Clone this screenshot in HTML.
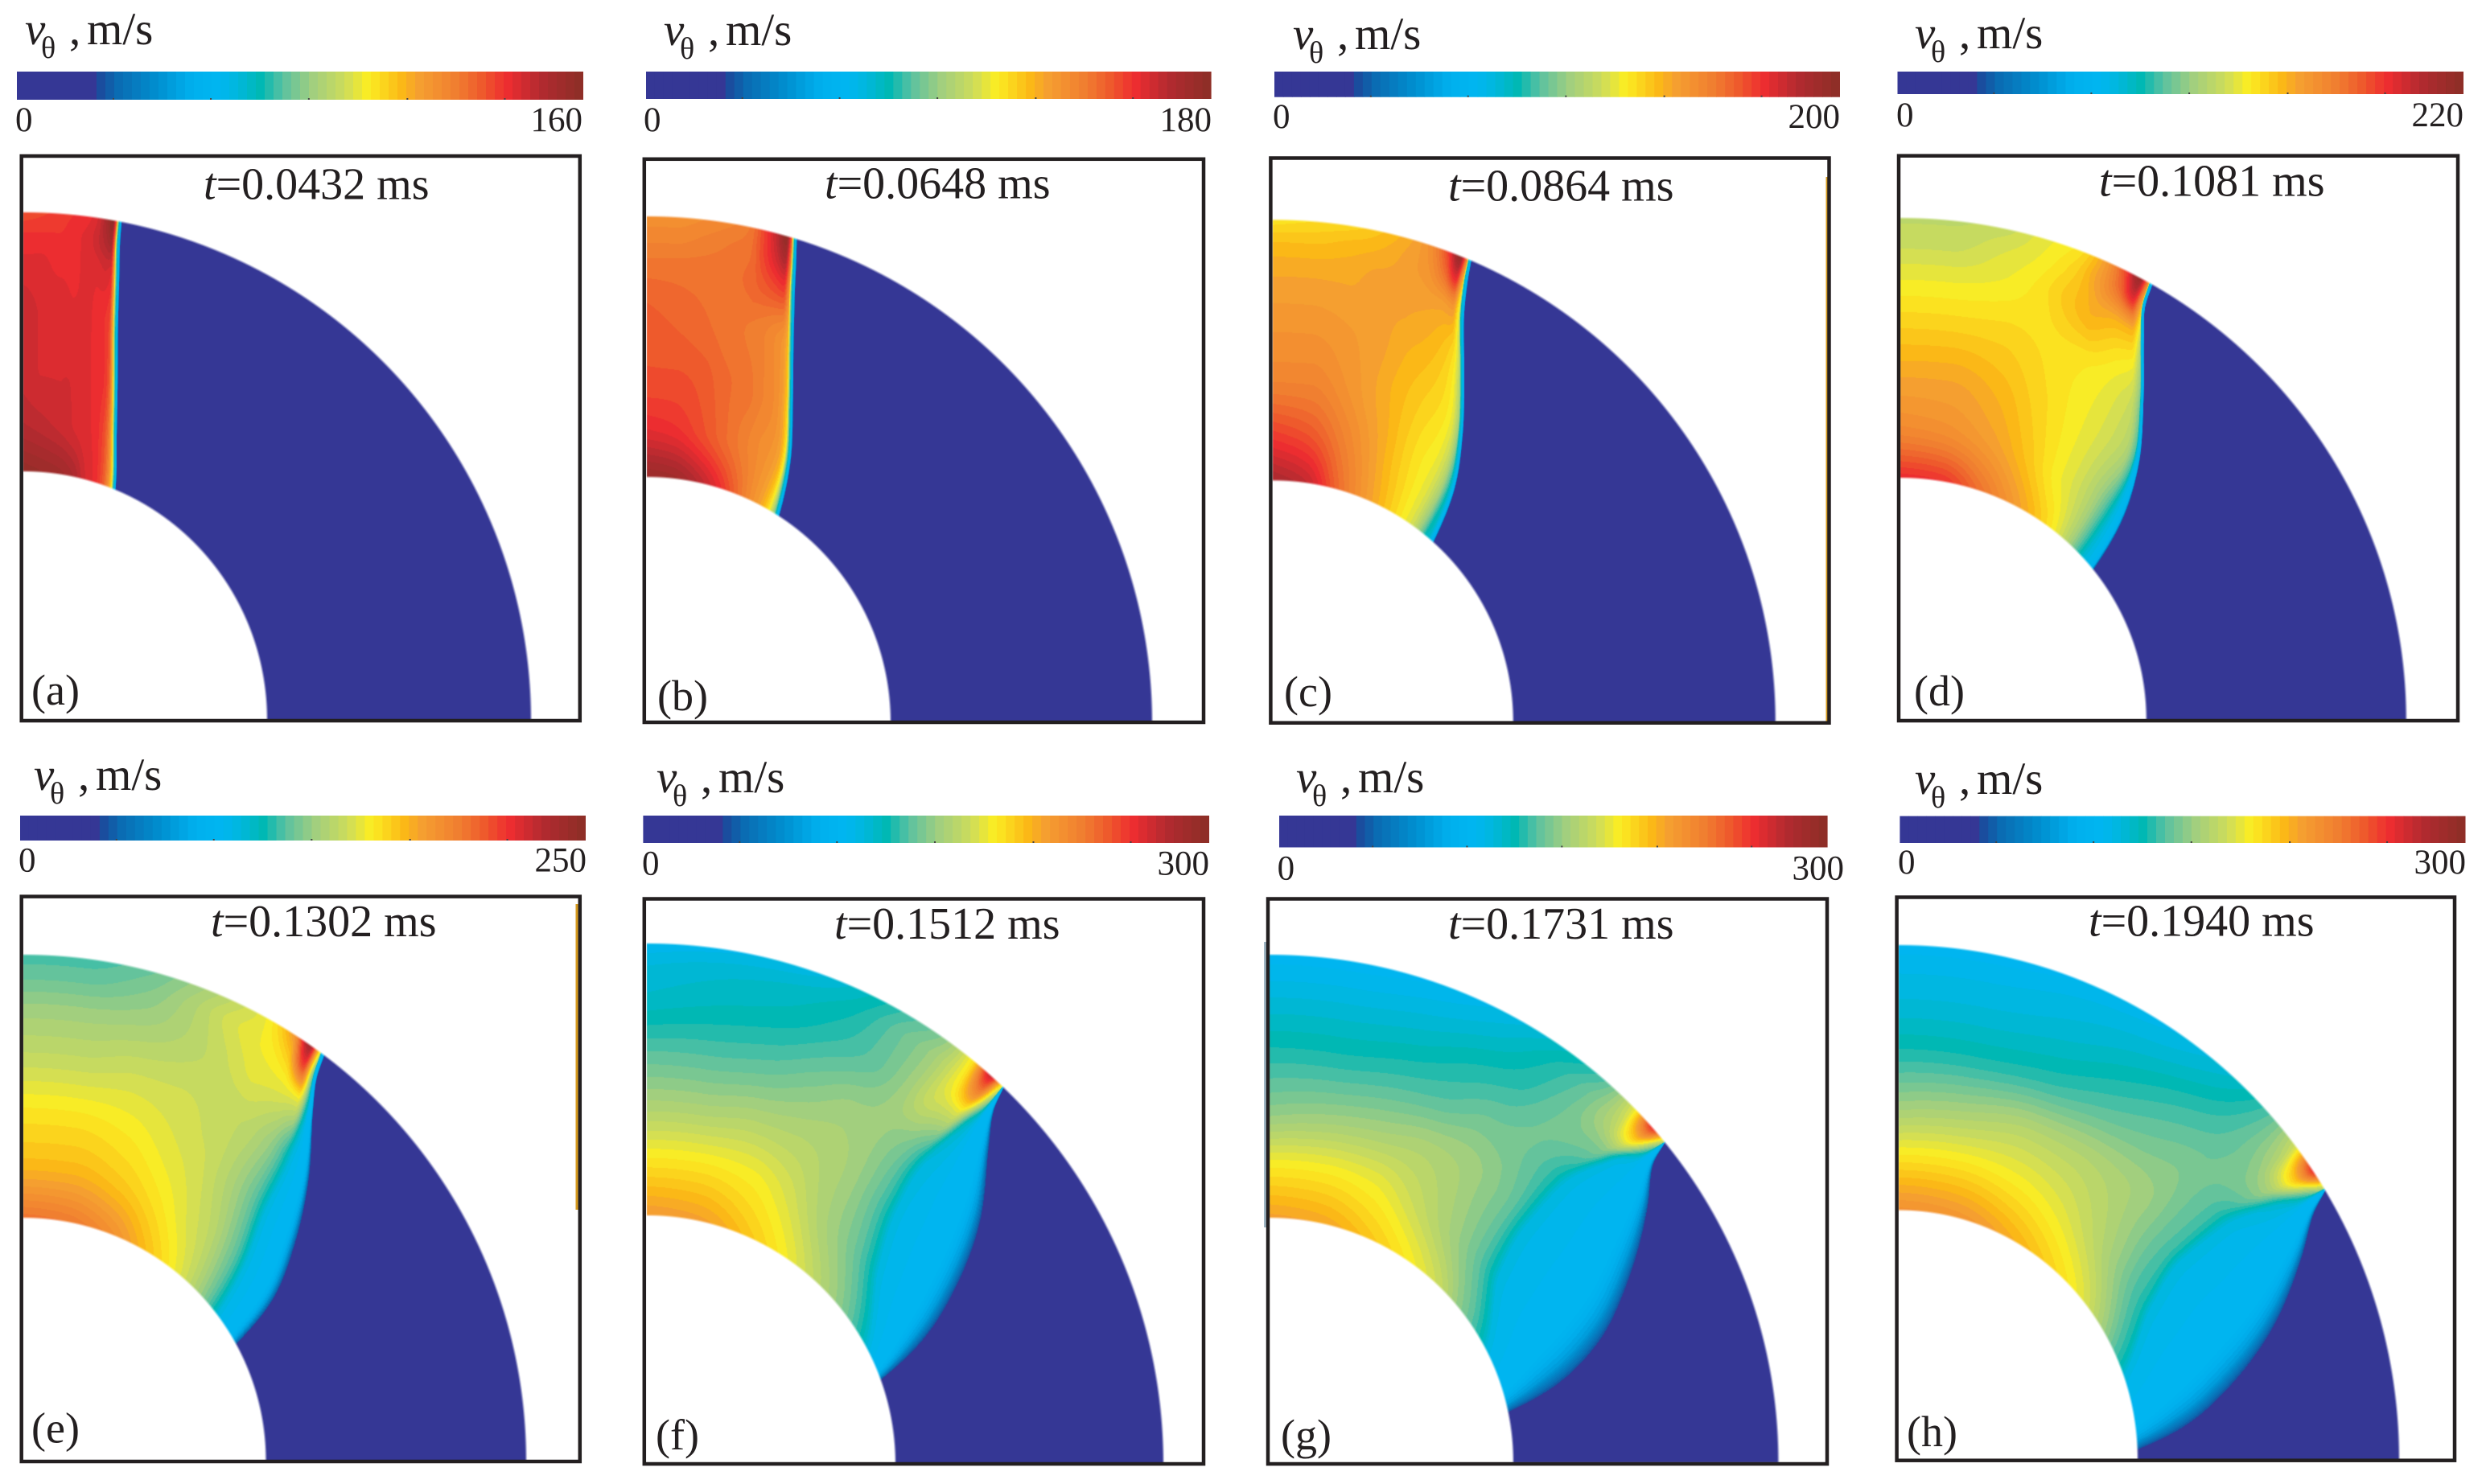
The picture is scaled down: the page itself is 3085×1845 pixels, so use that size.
<!DOCTYPE html>
<html lang="en">
<head>
<meta charset="utf-8">
<title>Tangential velocity fields</title>
<style>
html,body{margin:0;padding:0;background:#fff;}
#figure{position:relative;width:3085px;height:1845px;overflow:hidden;background:#fff;}
#figure canvas{position:absolute;display:block;}
#overlay{position:absolute;left:0;top:0;}
text{font-family:"Liberation Serif",serif;fill:#231f20;}
.title{font-size:56px;}
.letter{font-size:54px;}
.unit{font-size:57px;}
.sub{font-size:38px;}
.tick{font-size:43px;}
.it{font-style:italic;}
</style>
</head>
<body>
<div id="figure">
<svg id="overlay" width="3085" height="1845" viewBox="0 0 3085 1845">
<g id="bars"></g>

<g><text class="unit it" x="31" y="55">v</text><text class="sub" x="51" y="72">θ</text><text class="unit" x="86" y="55">,</text><text class="unit" x="108" y="55">m/s</text></g>
<g><text class="unit it" x="825" y="56">v</text><text class="sub" x="845" y="73">θ</text><text class="unit" x="880" y="56">,</text><text class="unit" x="902" y="56">m/s</text></g>
<g><text class="unit it" x="1607" y="61">v</text><text class="sub" x="1627" y="78">θ</text><text class="unit" x="1662" y="61">,</text><text class="unit" x="1684" y="61">m/s</text></g>
<g><text class="unit it" x="2380" y="60">v</text><text class="sub" x="2400" y="77">θ</text><text class="unit" x="2435" y="60">,</text><text class="unit" x="2457" y="60">m/s</text></g>
<g><text class="unit it" x="42" y="982">v</text><text class="sub" x="62" y="999">θ</text><text class="unit" x="97" y="982">,</text><text class="unit" x="119" y="982">m/s</text></g>
<g><text class="unit it" x="816" y="985">v</text><text class="sub" x="836" y="1002">θ</text><text class="unit" x="871" y="985">,</text><text class="unit" x="893" y="985">m/s</text></g>
<g><text class="unit it" x="1611" y="985">v</text><text class="sub" x="1631" y="1002">θ</text><text class="unit" x="1666" y="985">,</text><text class="unit" x="1688" y="985">m/s</text></g>
<g><text class="unit it" x="2380" y="987">v</text><text class="sub" x="2400" y="1004">θ</text><text class="unit" x="2435" y="987">,</text><text class="unit" x="2457" y="987">m/s</text></g>

<rect x="2269.5" y="220" width="2.5" height="677" fill="#d69a1e"/>
<rect x="715.5" y="1124" width="3" height="380" fill="#d69a1e"/>
<rect x="1571" y="1171" width="4" height="355" fill="#9fb6c4"/>

<rect x="26.7" y="194" width="694.1" height="702" fill="none" stroke="#231f20" stroke-width="4.5"/>
<rect x="800.8" y="197.8" width="695.2" height="700.2" fill="none" stroke="#231f20" stroke-width="4.5"/>
<rect x="1579.4" y="196.5" width="694.1" height="702.2" fill="none" stroke="#231f20" stroke-width="4.5"/>
<rect x="2360" y="193.7" width="695" height="702.3" fill="none" stroke="#231f20" stroke-width="4.5"/>
<rect x="26.7" y="1114.6" width="694.1" height="702.4" fill="none" stroke="#231f20" stroke-width="4.5"/>
<rect x="800.8" y="1117.5" width="695.2" height="702.5" fill="none" stroke="#231f20" stroke-width="4.5"/>
<rect x="1576" y="1117.5" width="695" height="702.5" fill="none" stroke="#231f20" stroke-width="4.5"/>
<rect x="2357.6" y="1115.5" width="693.4" height="700.2" fill="none" stroke="#231f20" stroke-width="4.5"/>

<text class="title" x="253" y="247.5"><tspan class="it">t</tspan>=0.0432 ms</text>
<text class="title" x="1025" y="246.5"><tspan class="it">t</tspan>=0.0648 ms</text>
<text class="title" x="1800" y="249.4"><tspan class="it">t</tspan>=0.0864 ms</text>
<text class="title" x="2609" y="243.5"><tspan class="it">t</tspan>=0.1081 ms</text>
<text class="title" x="262" y="1163.8"><tspan class="it">t</tspan>=0.1302 ms</text>
<text class="title" x="1037" y="1166.8"><tspan class="it">t</tspan>=0.1512 ms</text>
<text class="title" x="1800" y="1166.8"><tspan class="it">t</tspan>=0.1731 ms</text>
<text class="title" x="2596" y="1163.4"><tspan class="it">t</tspan>=0.1940 ms</text>

<text class="letter" x="39" y="876">(a)</text>
<text class="letter" x="817" y="883">(b)</text>
<text class="letter" x="1596" y="878">(c)</text>
<text class="letter" x="2379" y="877">(d)</text>
<text class="letter" x="39" y="1793.5">(e)</text>
<text class="letter" x="815" y="1802">(f)</text>
<text class="letter" x="1592" y="1802">(g)</text>
<text class="letter" x="2370" y="1798">(h)</text>
</svg>
</div>

<script>
// Colour scale (percent of scale -> colour)
const cmapStops = [0, 13.5, 15, 18, 25, 31, 36, 39, 43, 47, 52, 58, 62, 68, 71, 78, 82, 86.5, 92.5, 100];
const cmapColors = ['#353795','#353795','#17509f','#0a6cb3','#0090d0','#00b0ee','#00b6f0','#00b7dc','#00b8b4','#5bc1a0','#9fce80','#cedc5a','#fbed22','#fbb817','#f59f30','#f07c30','#ee5a2c','#ee2d30','#b22a30','#8b2f26'];

// Colorbar tick labels
const scaleMin = ['0','0','0','0','0','0','0','0'];
const scaleMax = ['160','180','200','220','250','300','300','300'];
const colorbarTicks = [16.9, 34.1, 51.4, 68.8, 86.0];

// Field grid coordinates: radial position across the ring, and fraction of the angle to the shear line
const rhoStations = [0, 0.2, 0.4, 0.6, 0.8, 0.92, 1];
const sStations = [0, 0.2, 0.4, 0.55, 0.7, 0.8, 0.9, 0.96, 1];
const bandStations = [0, 0.3, 0.7, 0.88, 1];

// Leading wave front angle (degrees from vertical) at each radial station
const frontA = [21.9, 18.2, 15.6, 13.6, 12.2, 11.5, 11.2];
const frontB = [32.8, 29, 24.8, 21.5, 19.1, 18, 17.3];
const frontC = [41.9, 38.2, 33.4, 28.8, 25.2, 23.9, 23.3];
const frontD = [51.9, 48, 43, 37.3, 32.5, 30.4, 29.9];
const frontE = [61.5, 57.5, 51.6, 45.7, 40, 37.6, 36.8];
const frontF = [70.4, 66, 60.4, 54.4, 47.6, 44.6, 43.7];
const frontG = [78.3, 75, 70, 63, 56, 52, 51];
const frontH = [87.7, 83.2, 77.3, 71, 64, 60, 58.5];

// Inner boundary of the thin/cyan wave band
const shearA = [20.7, 17.2, 14.7, 12.8, 11.5, 10.85, 10.6];
const shearB = [30.8, 27.6, 23.7, 20.6, 18.3, 17.3, 16.7];
const shearC = [39.4, 36.6, 32.4, 28, 24.5, 23.3, 22.8];
const shearD = [47.9, 45, 41.7, 36.6, 31.9, 29.9, 29.4];
const shearE = [53.5, 49, 44.5, 42, 39, 37, 36.2];
const shearF = [63, 50.5, 45, 43, 43.3, 43.6, 43.5];
const shearG = [63, 51, 47.5, 46.8, 48.7, 50.4, 50.9];
const shearH = [70.6, 60, 55.8, 55.4, 56.7, 57.8, 58.2];

// Values across the wave band, percent of the colour scale
const bandA = [50, 36, 30, 15];
const bandB = [50, 36, 30, 15];
const bandC = [42, 36, 30, 15];
const bandD = [38, 36, 31, 15];
const bandE = [36, 35, 27, 15];
const bandF = [36, 35, 27, 15];
const bandG = [36, 35, 27, 15];
const bandH = [36, 35, 27, 15];

// Field values, percent of its colour scale (rows: rho, columns: s)
const fieldA = [
  [98,97,96,94,89,87,82,74,64],
  [92,91,90,89,88,87,84,78,66],
  [90,89,89,89,88,87,86,82,68],
  [90,89,89,88,88,87,86,84,70],
  [88,88,87,87,88,88,89,88,72],
  [86,86,86,87,88,90,93,95,78],
  [83,84,85,86,87,89,95,99,80]];
const fieldB = [
  [97,96,92,87,80,75,70,64,56],
  [87,86,83,80,77,75,73,70,62],
  [83,83,82,80,79,77,75,72,66],
  [82,81,80,79,78,77,75,73,68],
  [79,79,79,79,80,82,84,85,74],
  [76,76,77,78,79,84,90,94,78],
  [74,74,75,76,78,84,92,99,80]];
const fieldC = [
  [94,91,80,73,67,63,58,50,42],
  [84,82,76,71,66,63,60,55,46],
  [76,76,73,70,67,65,63,60,52],
  [73,73,72,71,69,68,66,63,56],
  [70,70,70,71,71,71,71,72,60],
  [67,67,68,69,71,73,80,88,68],
  [63,64,65,67,70,74,85,98,75]];
const fieldD = [
  [87,86,79,73,67,62,54,46,40],
  [75,74,71,67,62,59,54,48,42],
  [70,70,68,65,62,60,57,54,46],
  [65,65,65,64,63,62,60,58,50],
  [60,60,61,63,67,69,68,68,58],
  [57,57,59,61,65,71,80,88,70],
  [56,56,57,60,63,70,84,97,75]];
const fieldE = [
  [79,78,74,68,62,57,50,44,38],
  [68,68,66,63,59,56,50,45,38],
  [63,63,62,60,58,55,50,45,38],
  [57,57,58,58,57,56,52,46,38],
  [52,52,53,55,58,60,60,60,42],
  [48,48,50,54,59,61,66,84,50],
  [46,46,48,52,57,61,72,95,60]];
const fieldF = [
  [72,71,66,61,55,51,46,42,38],
  [63,63,62,59,54,51,47,43,38],
  [54,54,55,55,54,52,48,44,38],
  [47,47,48,50,52,52,50,46,39],
  [41,42,43,45,48,52,58,58,42],
  [39,40,41,43,48,52,62,76,50],
  [36,37,38,41,46,50,63,90,60]];
const fieldG = [
  [71,70,66,62,57,51,46,42,38],
  [62,62,61,58,54,51,47,43,38],
  [51,52,53,54,53,51,48,44,38],
  [45,45,46,47,49,49,47,44,38],
  [40,40,41,43,45,48,50,50,38],
  [37,37,38,40,44,48,56,66,45],
  [35,35,36,38,42,46,60,86,55]];
const fieldH = [
  [74,73,69,65,60,54,47,43,38],
  [63,63,62,60,56,52,47,44,38],
  [52,53,55,55,54,52,48,45,38],
  [44,44,45,47,49,50,48,45,38],
  [39,39,40,42,45,47,50,52,40],
  [37,37,38,39,42,46,54,66,45],
  [35,35,36,37,40,45,58,86,55]];

const panelIds = ['a','b','c','d','e','f','g','h'];
const fronts = [frontA,frontB,frontC,frontD,frontE,frontF,frontG,frontH];
const shears = [shearA,shearB,shearC,shearD,shearE,shearF,shearG,shearH];
const bands = [bandA,bandB,bandC,bandD,bandE,bandF,bandG,bandH];
const fields = [fieldA,fieldB,fieldC,fieldD,fieldE,fieldF,fieldG,fieldH];

// Layout only (pixels on the page)
const panelBox = [
  {l:27,r:721,t:194,b:896,cx:29,cy:895,rx:631,ry:631,ix:303,iy:309},
  {l:801,r:1496,t:198,b:898,cx:804,cy:898,rx:628,ry:629,ix:303,iy:305},
  {l:1579,r:2273,t:197,b:899,cx:1581.8,cy:897.3,rx:625,ry:624,ix:299,iy:300},
  {l:2360,r:3055,t:194,b:896,cx:2362.3,cy:895,rx:628.5,ry:624,ix:305.5,iy:301},
  {l:27,r:721,t:1115,b:1817,cx:29,cy:1816,rx:625,ry:629,ix:301.5,iy:302},
  {l:801,r:1496,t:1118,b:1820,cx:804,cy:1820,rx:642,ry:647,ix:309,iy:309},
  {l:1576,r:2271,t:1118,b:1820,cx:1578.4,cy:1817,rx:632,ry:630,ix:302.5,iy:303},
  {l:2358,r:3051,t:1116,b:1816,cx:2360,cy:1814.5,rx:622,ry:639.5,ix:297,iy:310}];
const barBox = [
  {l:21,r:725,t:89,b:124,lx0:19,lx1:724,ly:163},
  {l:803,r:1505.6,t:89,b:123,lx0:800,lx1:1506,ly:163},
  {l:1584,r:2287,t:89,b:120.7,lx0:1582,lx1:2287,ly:159},
  {l:2358.5,r:3062,t:89,b:117,lx0:2357,lx1:3062,ly:157},
  {l:25,r:728,t:1014,b:1045,lx0:23,lx1:729,ly:1083.5},
  {l:799.4,r:1503,t:1014,b:1048,lx0:798,lx1:1503,ly:1087.6},
  {l:1590,r:2271.6,t:1014,b:1053.5,lx0:1587.6,lx1:2292,ly:1093.4},
  {l:2361.4,r:3064.5,t:1014.6,b:1048,lx0:2359,lx1:3065,ly:1086}];

const SVGNS = 'http://www.w3.org/2000/svg';
const LEVELS = 64;
const RHO_SAMPLES = 140;
const S_SAMPLES = 240;

function hexRgb(h){return [parseInt(h.slice(1,3),16),parseInt(h.slice(3,5),16),parseInt(h.slice(5,7),16)];}
const stopRgb = cmapColors.map(hexRgb);
function cmap(pct){
  const p = Math.max(0,Math.min(100,pct));
  let i = 0;
  while(i < cmapStops.length-2 && p > cmapStops[i+1]) i++;
  const f = (p-cmapStops[i])/(cmapStops[i+1]-cmapStops[i]);
  const a = stopRgb[i], b = stopRgb[i+1];
  return [a[0]+(b[0]-a[0])*f, a[1]+(b[1]-a[1])*f, a[2]+(b[2]-a[2])*f];
}
const lut = [];
for(let i=0;i<LEVELS;i++){ lut.push(cmap((i+0.5)*100/LEVELS).map(Math.round)); }

function findCell(st,v){
  let i = 0;
  while(i < st.length-2 && v > st[i+1]) i++;
  return i;
}
function interp1(st,vals,v){
  const i = findCell(st,v);
  const f = Math.max(0,Math.min(1,(v-st[i])/(st[i+1]-st[i])));
  return vals[i]+(vals[i+1]-vals[i])*f;
}
// Monotone cubic interpolation through the read values
function tangents(st,vals){
  const n = st.length, d = [], m = new Array(n);
  for(let i=0;i<n-1;i++) d.push((vals[i+1]-vals[i])/(st[i+1]-st[i]));
  m[0] = d[0]; m[n-1] = d[n-2];
  for(let i=1;i<n-1;i++){
    m[i] = d[i-1]*d[i] <= 0 ? 0 : 2*d[i-1]*d[i]/(d[i-1]+d[i]);
  }
  return m;
}
function smooth1(st,vals,m,v){
  const i = findCell(st,v);
  const h = st[i+1]-st[i];
  const t = Math.max(0,Math.min(1,(v-st[i])/h));
  const t2 = t*t, t3 = t2*t;
  return (2*t3-3*t2+1)*vals[i]+(t3-2*t2+t)*h*m[i]+(3*t2-2*t3)*vals[i+1]+(t3-t2)*h*m[i+1];
}
function curveTable(vals){
  const m = tangents(rhoStations,vals), out = new Float32Array(RHO_SAMPLES+1);
  for(let i=0;i<=RHO_SAMPLES;i++) out[i] = smooth1(rhoStations,vals,m,i/RHO_SAMPLES);
  return out;
}
function fieldTable(grid){
  const out = new Float32Array((RHO_SAMPLES+1)*(S_SAMPLES+1));
  const rowM = grid.map(r => tangents(sStations,r));
  for(let j=0;j<=S_SAMPLES;j++){
    const s = j/S_SAMPLES;
    const col = grid.map((r,ri) => smooth1(sStations,r,rowM[ri],s));
    const cm = tangents(rhoStations,col);
    for(let i=0;i<=RHO_SAMPLES;i++){
      out[i*(S_SAMPLES+1)+j] = smooth1(rhoStations,col,cm,i/RHO_SAMPLES);
    }
  }
  return out;
}
function sampleField(tab,rho,s){
  const a = Math.max(0,Math.min(1,rho))*RHO_SAMPLES, b = Math.max(0,Math.min(1,s))*S_SAMPLES;
  const i = Math.min(RHO_SAMPLES-1,Math.floor(a)), j = Math.min(S_SAMPLES-1,Math.floor(b));
  const fa = a-i, fb = b-j, W = S_SAMPLES+1;
  const p = tab[i*W+j]+(tab[i*W+j+1]-tab[i*W+j])*fb;
  const q = tab[(i+1)*W+j]+(tab[(i+1)*W+j+1]-tab[(i+1)*W+j])*fb;
  return p+(q-p)*fa;
}
function sampleCurve(tab,rho){
  const a = Math.max(0,Math.min(1,rho))*RHO_SAMPLES;
  const i = Math.min(RHO_SAMPLES-1,Math.floor(a));
  return tab[i]+(tab[i+1]-tab[i])*(a-i);
}

function drawPanel(k){
  const box = panelBox[k], band = bands[k];
  const tab = fieldTable(fields[k]), fTab = curveTable(fronts[k]), sTab = curveTable(shears[k]);
  const w = box.r-box.l, h = box.b-box.t;
  const cv = document.createElement('canvas');
  cv.width = w; cv.height = h;
  cv.style.left = box.l+'px'; cv.style.top = box.t+'px';
  
  
  const ctx = cv.getContext('2d');
  const img = ctx.createImageData(w,h), d = img.data;
  const rMean = (box.rx+box.ry)/2, iMean = (box.ix+box.iy)/2;
  for(let y=0;y<h;y++){
    const dy = box.cy-(box.t+y+0.5);
    for(let x=0;x<w;x++){
      const dx = box.l+x+0.5-box.cx;
      const o = (x+y*w)*4;
      d[o]=255;d[o+1]=255;d[o+2]=255;d[o+3]=0;
      if(dx<0||dy<-1) continue;
      const hypO = Math.hypot(dx/box.rx,dy/box.ry);
      const hypI = Math.hypot(dx/box.ix,dy/box.iy);
      const edgeO = (1-hypO)*rMean, edgeI = (hypI-1)*iMean;
      const alpha = Math.max(0,Math.min(1,Math.min(edgeO,edgeI)/3+0.5));
      if(alpha<=0) continue;
      const rho = Math.max(0,Math.min(1,(1-1/hypI)/(1/hypO-1/hypI)));
      const phi = Math.atan2(dx/box.rx,Math.max(dy,0)/box.ry)*180/Math.PI;
      const fPhi = sampleCurve(fTab,rho);
      const sPhi = sampleCurve(sTab,rho);
      let v;
      if(phi>=fPhi){ v = 0; }
      else if(phi<=sPhi){ v = sampleField(tab,rho,phi/sPhi); }
      else{
        const u = (phi-sPhi)/(fPhi-sPhi);
        const start = sampleField(tab,rho,1);
        v = interp1(bandStations,[start,band[0],band[1],band[2],band[3]],u);
      }
      const c = lut[Math.max(0,Math.min(LEVELS-1,Math.floor(v/100*LEVELS)))];
      d[o]=c[0];d[o+1]=c[1];d[o+2]=c[2];d[o+3]=Math.round(alpha*255);
    }
  }
  ctx.putImageData(img,0,0);
  return cv;
}

const figure = document.getElementById('figure');
const overlay = document.getElementById('overlay');
for(let k=0;k<panelIds.length;k++){
  figure.insertBefore(drawPanel(k),overlay);
}

const barsGroup = document.getElementById('bars');
for(let k=0;k<panelIds.length;k++){
  const b = barBox[k];
  const g = document.createElementNS(SVGNS,'g');
  
  
  const bw = (b.r-b.l)/LEVELS;
  for(let i=0;i<LEVELS;i++){
    const r = document.createElementNS(SVGNS,'rect');
    r.setAttribute('x',b.l+i*bw);
    r.setAttribute('y',b.t);
    r.setAttribute('width',i===LEVELS-1?bw:bw+0.6);
    r.setAttribute('height',b.b-b.t);
    r.setAttribute('fill','rgb('+lut[i].join(',')+')');
    
    
    g.appendChild(r);
  }
  for(const pct of colorbarTicks){
    const t = document.createElementNS(SVGNS,'rect');
    t.setAttribute('x',b.l+pct/100*(b.r-b.l));
    t.setAttribute('y',b.b-2);
    t.setAttribute('width',2);
    t.setAttribute('height',2);
    t.setAttribute('fill','#444');
    
    
    g.appendChild(t);
  }
  const t0 = document.createElementNS(SVGNS,'text');
  t0.setAttribute('class','tick');
  t0.setAttribute('x',b.lx0);
  t0.setAttribute('y',b.ly);
  t0.textContent = scaleMin[k];
  
  
  g.appendChild(t0);
  const t1 = document.createElementNS(SVGNS,'text');
  t1.setAttribute('class','tick');
  t1.setAttribute('x',b.lx1);
  t1.setAttribute('y',b.ly);
  t1.setAttribute('text-anchor','end');
  t1.textContent = scaleMax[k];
  
  
  g.appendChild(t1);
  barsGroup.appendChild(g);
}
</script>
</body>
</html>
